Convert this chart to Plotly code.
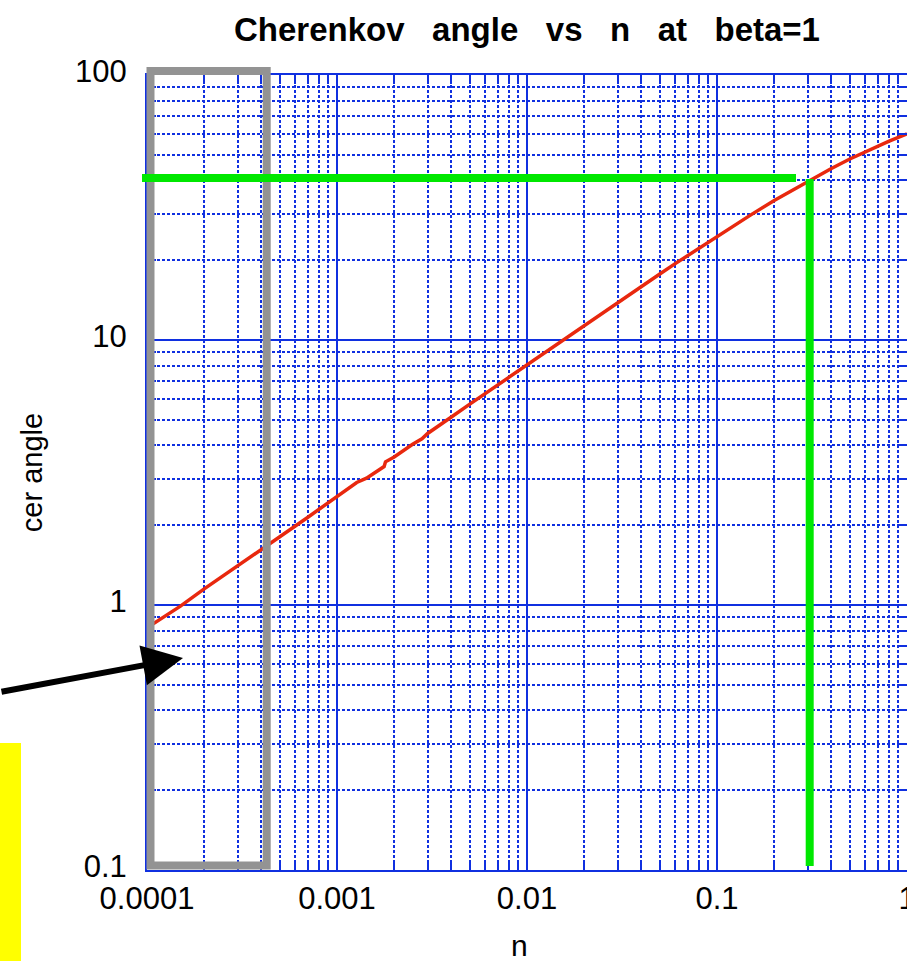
import plotly.graph_objects as go

# ---- data ----
n_vals = [1.0e-4, 1.5e-4, 2.0e-4, 3.0e-4, 4.0e-4, 5.0e-4, 7.0e-4, 1.0e-3,
          1.27e-3, 1.43e-3, 1.6e-3, 1.77e-3, 1.80e-3, 2.0e-3, 2.5e-3, 2.8e-3,
          3.0e-3, 3.5e-3, 4.0e-3, 5.0e-3, 6.0e-3, 7.0e-3, 8.0e-3, 1.0e-2,
          1.5e-2, 2.0e-2, 3.0e-2, 4.0e-2, 5.0e-2, 6.0e-2, 7.0e-2, 8.0e-2,
          0.1, 0.15, 0.2, 0.3, 0.4, 0.5, 0.6, 0.7, 0.8, 0.9, 1.0]
angle_vals = [0.82, 0.99, 1.15, 1.40, 1.62, 1.81, 2.14, 2.56,
              2.90, 3.01, 3.17, 3.33, 3.47, 3.62, 4.04, 4.24,
              4.44, 4.78, 5.12, 5.73, 6.27, 6.77, 7.24, 8.07,
              9.85, 11.36, 13.86, 15.94, 17.75, 19.37, 20.83, 22.2,
              24.6, 29.6, 33.6, 39.7, 44.4, 48.2, 51.3, 54.0, 56.2, 58.2, 60.0]

x_tickvals = [1e-4, 1e-3, 1e-2, 1e-1, 1]
x_ticktext = ["0.0001", "0.001", "0.01", "0.1", "1"]
y_tickvals = [0.1, 1, 10, 100]
y_ticktext = ["0.1", "1", "10", "100"]

x_minor = [m * 10.0 ** e for e in range(-4, 0) for m in range(2, 10)]
y_minor = [m * 10.0 ** e for e in range(-1, 2) for m in range(2, 10)]

W, H = 907, 961
L, R, T, B = 147, 0, 75, 91
PW, PH = W - L - R, H - T - B


def px(x):
    return (x - L) / PW


def py(y):
    return (H - B - y) / PH


BLUE = "#1030E0"
FONT = "Liberation Sans, Arial, Helvetica, sans-serif"

fig = go.Figure()
fig.add_trace(go.Scatter(x=n_vals, y=angle_vals, mode="lines",
                         line=dict(color="#E8280E", width=3.5),
                         showlegend=False, hoverinfo="skip"))

axis_common = dict(
    type="log", showgrid=True, gridcolor=BLUE, gridwidth=2,
    showline=True, linecolor=BLUE, linewidth=2, mirror="ticks",
    ticks="inside", ticklen=12, tickwidth=2, tickcolor=BLUE,
    zeroline=False, tickfont=dict(size=31, color="black", family=FONT),
    ticklabeloverflow="allow",
)

fig.update_xaxes(range=[-4, 0], tickmode="array", tickvals=x_tickvals,
                 ticktext=x_ticktext,
                 minor=dict(tickmode="array", tickvals=x_minor, showgrid=True,
                            gridcolor=BLUE, gridwidth=2, griddash="3px,2px",
                            ticks="inside", ticklen=9, tickwidth=2, tickcolor=BLUE),
                 **axis_common)
fig.update_yaxes(range=[-1, 2], tickmode="array", tickvals=y_tickvals,
                 ticktext=y_ticktext, ticklabelstandoff=12, ticklabelshift=-4,
                 minor=dict(tickmode="array", tickvals=y_minor, showgrid=True,
                            gridcolor=BLUE, gridwidth=2, griddash="3px,2px",
                            ticks="inside", ticklen=9, tickwidth=2, tickcolor=BLUE),
                 title=dict(text="cer angle", font=dict(size=29, color="black", family=FONT),
                            standoff=24),
                 **axis_common)

shapes = [
    # grey highlight box
    dict(type="rect", xref="paper", yref="paper",
         x0=px(150.5), x1=px(266.7), y0=py(865.5), y1=py(71),
         line=dict(color="#939393", width=8), layer="above"),
    # green marker lines
    dict(type="line", xref="paper", yref="paper",
         x0=px(142), x1=px(796), y0=py(178), y1=py(178),
         line=dict(color="#00E800", width=8), layer="above"),
    dict(type="line", xref="paper", yref="paper",
         x0=px(809.7), x1=px(809.7), y0=py(179), y1=py(866),
         line=dict(color="#00E800", width=8), layer="above"),
    # yellow strip
    dict(type="rect", xref="paper", yref="paper",
         x0=px(0), x1=px(21), y0=py(961), y1=py(743),
         fillcolor="#FFFF00", line=dict(width=0), layer="above"),
]

annotations = [
    dict(x=px(183), y=py(658), xref="paper", yref="paper",
         ax=-193, ay=34, axref="pixel", ayref="pixel",
         showarrow=True, arrowhead=2, arrowsize=1.35, arrowwidth=6,
         arrowcolor="black", text="", standoff=0),
    # x-axis title
    dict(x=px(519), y=py(945), xref="paper", yref="paper",
         text="n", showarrow=False, xanchor="center", yanchor="middle",
         borderpad=0, font=dict(size=30, color="black", family=FONT)),
]

fig.update_layout(
    width=W, height=H,
    margin=dict(l=L, r=R, t=T, b=B, autoexpand=False),
    paper_bgcolor="white", plot_bgcolor="white",
    title=dict(text="<b>Cherenkov   angle   vs   n   at   beta=1</b>",
               x=0.5, xref="paper", y=1 - 29 / H, yanchor="middle",
               font=dict(size=33, color="black", family=FONT)),
    shapes=shapes, annotations=annotations,
    font=dict(family=FONT, color="black"),
)

fig.write_html("out.html",
               config={"displayModeBar": False},
               post_script="document.body.style.margin='0';"
                           "document.documentElement.style.overflow='hidden';")
